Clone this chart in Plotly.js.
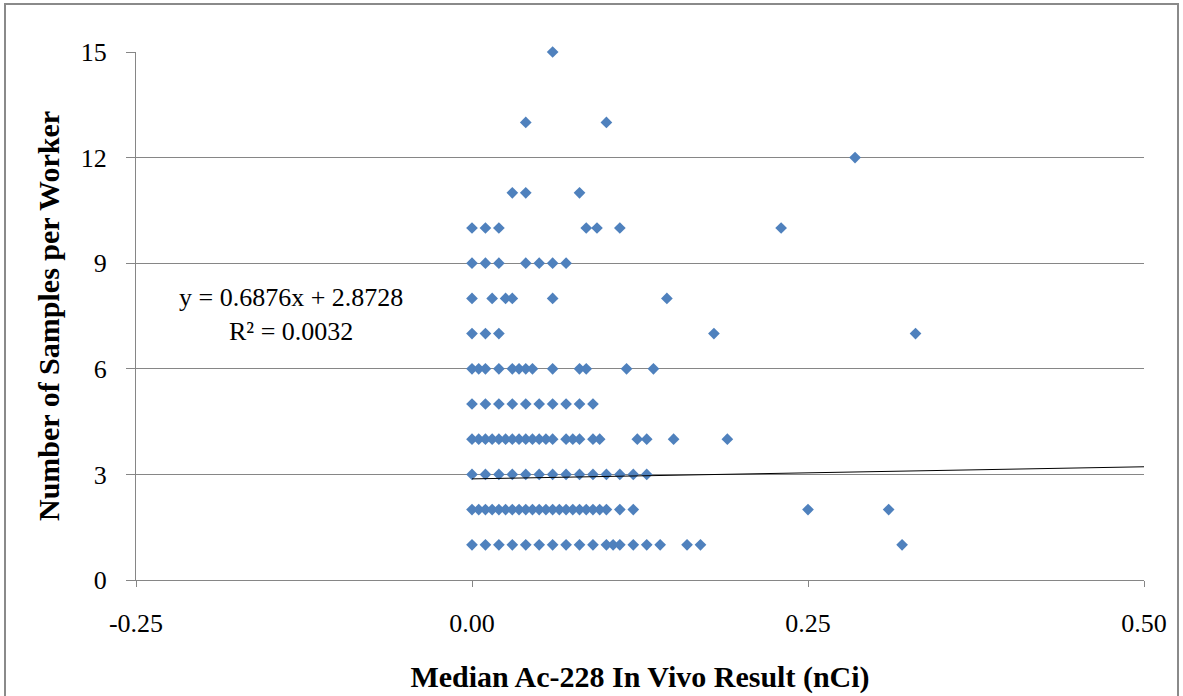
<!DOCTYPE html>
<html>
<head>
<meta charset="utf-8">
<script src="https://cdn.plot.ly/plotly-3.0.1.min.js"></script>
<style>
html,body{margin:0;padding:0;background:#fff;overflow:hidden;}
#chart{width:1183px;height:696px;}
#frame{position:absolute;left:4px;top:3px;width:1171px;height:700px;border:2px solid #8a8a8a;pointer-events:none;}
</style>
</head>
<body>
<div id="chart"></div>
<div id="frame"></div>
<script>
// Median Ac-228 in vivo result (nCi) for workers, grouped by number of samples per worker
const samples15 = [0.06];
const samples13 = [0.04, 0.10];
const samples12 = [0.285];
const samples11 = [0.03, 0.04, 0.08];
const samples10 = [0, 0.01, 0.02, 0.085, 0.093, 0.11, 0.23];
const samples9  = [0, 0.01, 0.02, 0.04, 0.05, 0.06, 0.07];
const samples8  = [0, 0.015, 0.025, 0.03, 0.06, 0.145];
const samples7  = [0, 0.01, 0.02, 0.18, 0.33];
const samples6  = [0, 0.005, 0.01, 0.02, 0.03, 0.035, 0.04, 0.045, 0.06, 0.08, 0.085, 0.115, 0.135];
const samples5  = [0, 0.01, 0.02, 0.03, 0.04, 0.05, 0.06, 0.07, 0.08, 0.09];
const samples4  = [0, 0.005, 0.01, 0.015, 0.02, 0.025, 0.03, 0.035, 0.04, 0.045, 0.05, 0.055, 0.06,
                   0.07, 0.075, 0.08, 0.09, 0.095, 0.123, 0.13, 0.15, 0.19];
const samples3  = [0, 0.01, 0.02, 0.03, 0.04, 0.05, 0.06, 0.07, 0.08, 0.09, 0.10, 0.11, 0.12, 0.13];
const samples2  = [0, 0.005, 0.01, 0.015, 0.02, 0.025, 0.03, 0.035, 0.04, 0.045, 0.05, 0.055, 0.06,
                   0.065, 0.07, 0.075, 0.08, 0.085, 0.09, 0.095, 0.10, 0.11, 0.12, 0.25, 0.31];
const samples1  = [0, 0.01, 0.02, 0.03, 0.04, 0.05, 0.06, 0.07, 0.08, 0.09, 0.10, 0.105, 0.11,
                   0.12, 0.13, 0.14, 0.16, 0.17, 0.32];

const sampleCounts = [15, 13, 12, 11, 10, 9, 8, 7, 6, 5, 4, 3, 2, 1];
const medianByCount = [samples15, samples13, samples12, samples11, samples10, samples9, samples8,
                       samples7, samples6, samples5, samples4, samples3, samples2, samples1];

// Linear trendline reported on the chart
const trendSlope = 0.6876;
const trendIntercept = 2.8728;
const trendXRange = [0, 0.5];
const trendLabel = "y = 0.6876x + 2.8728<br>R\u00b2 = 0.0032";

const xTicks = [-0.25, 0, 0.25, 0.5];
const xTickLabels = ["-0.25", "0.00", "0.25", "0.50"];
const yTicks = [0, 3, 6, 9, 12, 15];

const px = [], py = [];
medianByCount.forEach((arr, i) => arr.forEach(v => { px.push(v); py.push(sampleCounts[i]); }));

const serif = "'Liberation Serif', 'Times New Roman', serif";

const traces = [
  {
    x: px, y: py, type: 'scatter', mode: 'markers', cliponaxis: false,
    marker: {symbol: 'diamond', size: 9, color: '#4F81BD'},
    hoverinfo: 'x+y', showlegend: false
  },
  {
    x: trendXRange, y: trendXRange.map(x => trendSlope * x + trendIntercept),
    type: 'scatter', mode: 'lines',
    line: {color: '#000000', width: 1},
    hoverinfo: 'skip', showlegend: false
  }
];

const layout = {
  width: 1183, height: 696,
  margin: {l: 136, r: 39, t: 52, b: 116},
  paper_bgcolor: '#ffffff', plot_bgcolor: '#ffffff',
  font: {family: serif, color: '#000'},
  xaxis: {
    range: [-0.25, 0.5], tickvals: xTicks, ticktext: xTickLabels,
    showgrid: false, zeroline: false,
    showline: true, linecolor: '#868686', linewidth: 1,
    ticks: 'outside', ticklen: 6, tickcolor: '#868686',
    ticklabelstandoff: 14,
    tickfont: {family: serif, size: 26, color: '#000'},
    title: {text: '<b>Median Ac-228 In Vivo Result (nCi)</b>',
            font: {family: serif, size: 30, color: '#000'}, standoff: 28}
  },
  yaxis: {
    range: [0, 15], tickvals: yTicks,
    showgrid: true, gridcolor: '#868686', gridwidth: 1, zeroline: false,
    showline: true, linecolor: '#868686', linewidth: 1,
    ticks: 'outside', ticklen: 9, tickcolor: '#868686',
    ticklabelstandoff: 14,
    tickfont: {family: serif, size: 26, color: '#000'},
    title: {text: '<b>Number of Samples per Worker</b>',
            font: {family: serif, size: 30, color: '#000'}, standoff: 12}
  },
  annotations: [{
    text: trendLabel, x: -0.135, y: 7.55, xref: 'x', yref: 'y',
    showarrow: false, align: 'center',
    font: {family: serif, size: 26, color: '#000'}
  }]
};

Plotly.newPlot('chart', traces, layout, {displayModeBar: false, staticPlot: true});
</script>
</body>
</html>
